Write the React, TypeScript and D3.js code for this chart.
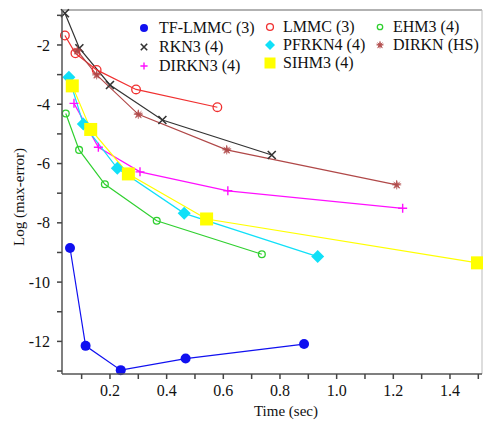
import React from "react";
import * as d3 from "d3";

const seriesNames = ["TF-LMMC (3)", "RKN3 (4)", "DIRKN3 (4)", "LMMC (3)", "PFRKN4 (4)", "SIHM3 (4)", "EHM3 (4)", "DIRKN (HS)"];

const tfLmmcT = [0.059, 0.114, 0.238, 0.467, 0.885];
const tfLmmcV = [-8.85, -12.15, -12.97, -12.58, -12.09];
const rkn3T = [0.041, 0.092, 0.2, 0.385, 0.771];
const rkn3V = [-0.93, -2.11, -3.35, -4.53, -5.71];
const dirkn3T = [0.073, 0.159, 0.306, 0.616, 1.233];
const dirkn3V = [-3.97, -5.45, -6.28, -6.92, -7.51];
const lmmcT = [0.041, 0.078, 0.153, 0.292, 0.579];
const lmmcV = [-1.68, -2.28, -2.84, -3.5, -4.1];
const pfrkn4T = [0.055, 0.106, 0.226, 0.462, 0.933];
const pfrkn4V = [-3.09, -4.67, -6.16, -7.68, -9.14];
const sihm3T = [0.067, 0.132, 0.265, 0.541, 1.497];
const sihm3V = [-3.38, -4.85, -6.35, -7.87, -9.35];
const ehm3T = [0.044, 0.091, 0.182, 0.365, 0.736];
const ehm3V = [-4.31, -5.54, -6.7, -7.93, -9.06];
const dirknHsT = [0.085, 0.153, 0.3, 0.612, 1.212];
const dirknHsV = [-2.2, -3.01, -4.34, -5.54, -6.72];

const xTickValues = [0.1, 0.2, 0.3, 0.4, 0.5, 0.6, 0.7, 0.8, 0.9, 1.0, 1.1, 1.2, 1.3, 1.4, 1.5];
const xTickLabels = ["0.2", "0.4", "0.6", "0.8", "1.0", "1.2", "1.4"];
const yTickValues = [-1, -2, -3, -4, -5, -6, -7, -8, -9, -10, -11, -12, -13];
const yTickLabels = ["-2", "-4", "-6", "-8", "-10", "-12"];

const W = 483, H = 424;
const L = 62, R = 482, T = 10, B = 374;
const FONT = "Liberation Serif, Times New Roman, DejaVu Serif, serif";
const txt: React.CSSProperties = { fontFamily: FONT };

type Kind = "dot" | "x" | "plus" | "ring" | "diamond" | "square" | "ring2" | "star";

const series = [
  { name: seriesNames[0], t: tfLmmcT, v: tfLmmcV, color: "#1010f0", kind: "dot" as Kind },
  { name: seriesNames[1], t: rkn3T, v: rkn3V, color: "#333333", kind: "x" as Kind },
  { name: seriesNames[2], t: dirkn3T, v: dirkn3V, color: "#ff10ff", kind: "plus" as Kind },
  { name: seriesNames[3], t: lmmcT, v: lmmcV, color: "#f03030", kind: "ring" as Kind },
  { name: seriesNames[4], t: pfrkn4T, v: pfrkn4V, color: "#10e0f8", kind: "diamond" as Kind },
  { name: seriesNames[5], t: sihm3T, v: sihm3V, color: "#ffff00", kind: "square" as Kind },
  { name: seriesNames[6], t: ehm3T, v: ehm3V, color: "#30d030", kind: "ring2" as Kind },
  { name: seriesNames[7], t: dirknHsT, v: dirknHsV, color: "#b04848", kind: "star" as Kind },
];

function Marker({ kind, color, x, y, legend }: { kind: Kind; color: string; x: number; y: number; legend?: boolean }) {
  const k = legend ? 0.8 : 1;
  switch (kind) {
    case "dot":
      return <circle cx={x} cy={y} r={5 * k} fill={color} />;
    case "ring":
      return <circle cx={x} cy={y} r={4.3 * k} fill="none" stroke={color} strokeWidth={1.3} />;
    case "ring2":
      return <circle cx={x} cy={y} r={3.4 * k} fill="none" stroke={color} strokeWidth={1.3} />;
    case "x": {
      const s = 4 * k;
      return <path d={`M${x - s},${y - s}L${x + s},${y + s}M${x - s},${y + s}L${x + s},${y - s}`} stroke={color} strokeWidth={1.6} />;
    }
    case "plus": {
      const s = 4.5 * k;
      return <path d={`M${x - s},${y}L${x + s},${y}M${x},${y - s}L${x},${y + s}`} stroke={color} strokeWidth={1.4} />;
    }
    case "diamond": {
      const s = legend ? 5 : 6.5;
      return <path d={`M${x},${y - s}L${x + s},${y}L${x},${y + s}L${x - s},${y}Z`} fill={color} />;
    }
    case "square": {
      const s = legend ? 11 : 13;
      return <rect x={x - s / 2} y={y - s / 2} width={s} height={s} fill={color} />;
    }
    case "star": {
      const path = d3.symbol(d3.symbolAsterisk ? d3.symbolStar : d3.symbolStar, legend ? 22 : 30)();
      const s = legend ? 3.5 : 4.5;
      return (
        <g>
          <path d={path || ""} transform={`translate(${x},${y})`} fill={color} opacity={0.8} />
          <path d={`M${x - s},${y}L${x + s},${y}M${x},${y - s}L${x},${y + s}M${x - s * 0.7},${y - s * 0.7}L${x + s * 0.7},${y + s * 0.7}M${x - s * 0.7},${y + s * 0.7}L${x + s * 0.7},${y - s * 0.7}`} stroke={color} strokeWidth={1} opacity={0.8} />
        </g>
      );
    }
  }
  return null;
}

const legendCols = [
  { mx: 144, tx: 159, rows: [28, 47, 66], idx: [0, 1, 2] },
  { mx: 270, tx: 283, rows: [27, 45, 63], idx: [3, 4, 5] },
  { mx: 380, tx: 393, rows: [27, 45], idx: [6, 7] },
];

export default function App() {
  const x = d3.scaleLinear().domain([0.0307, 1.513]).range([L, R]);
  const y = d3.scaleLinear().domain([-13.1, -0.82]).range([B, T]);
  const line = d3
    .line<[number, number]>()
    .x((d) => x(d[0]))
    .y((d) => y(d[1]));

  return (
    <svg width={W} height={H} style={{ position: "absolute", left: 0, top: 0, background: "#fff", fontFamily: FONT }}>
      <rect x={0} y={0} width={W} height={H} fill="#fff" />
      <line x1={L} y1={T} x2={R} y2={T} stroke="#999" strokeWidth={1.5} />
      <line x1={R} y1={T} x2={R} y2={B} stroke="#bbb" strokeWidth={1} />
      {series.map((s) => (
        <path key={s.name + "l"} d={line(s.t.map((t, i) => [t, s.v[i]] as [number, number])) || ""} fill="none" stroke={s.color} strokeWidth={1.2} />
      ))}
      {series.map((s) =>
        s.t.map((t, i) => <Marker key={s.name + i} kind={s.kind} color={s.color} x={x(t)} y={y(s.v[i])} />)
      )}
      <line x1={L} y1={T} x2={L} y2={B} stroke="#555" strokeWidth={1.5} />
      <line x1={L} y1={B} x2={R} y2={B} stroke="#555" strokeWidth={1.5} />
      {yTickValues.map((v) => (
        <line key={"yt" + v} x1={L - 5} x2={L} y1={y(v)} y2={y(v)} stroke="#444" strokeWidth={1.5} />
      ))}
      {yTickLabels.map((lab) => (
        <text key={"yl" + lab} x={50} y={y(+lab)} dy="0.35em" textAnchor="end" fontSize={16} fill="#111" style={txt}>
          {lab}
        </text>
      ))}
      {xTickValues.map((v) => (
        <line key={"xt" + v} x1={x(v)} x2={x(v)} y1={B} y2={B + 5} stroke="#444" strokeWidth={1.5} />
      ))}
      {xTickLabels.map((lab) => (
        <text key={"xl" + lab} x={x(+lab)} y={396} textAnchor="middle" fontSize={16} fill="#111" style={txt}>
          {lab}
        </text>
      ))}
      <text x={286} y={416} textAnchor="middle" fontSize={15} fill="#111" style={txt}>
        Time (sec)
      </text>
      <text transform={`translate(24,197) rotate(-90)`} textAnchor="middle" fontSize={15} fill="#111" style={txt}>
        Log (max-error)
      </text>
      {legendCols.map((c, ci) =>
        c.idx.map((si, ri) => (
          <g key={"lg" + ci + ri}>
            <Marker kind={series[si].kind} color={series[si].color} x={c.mx} y={c.rows[ri]} legend />
            <text x={c.tx} y={c.rows[ri] + 5} fontSize={16} fill="#111" style={txt}>
              {series[si].name}
            </text>
          </g>
        ))
      )}
    </svg>
  );
}
